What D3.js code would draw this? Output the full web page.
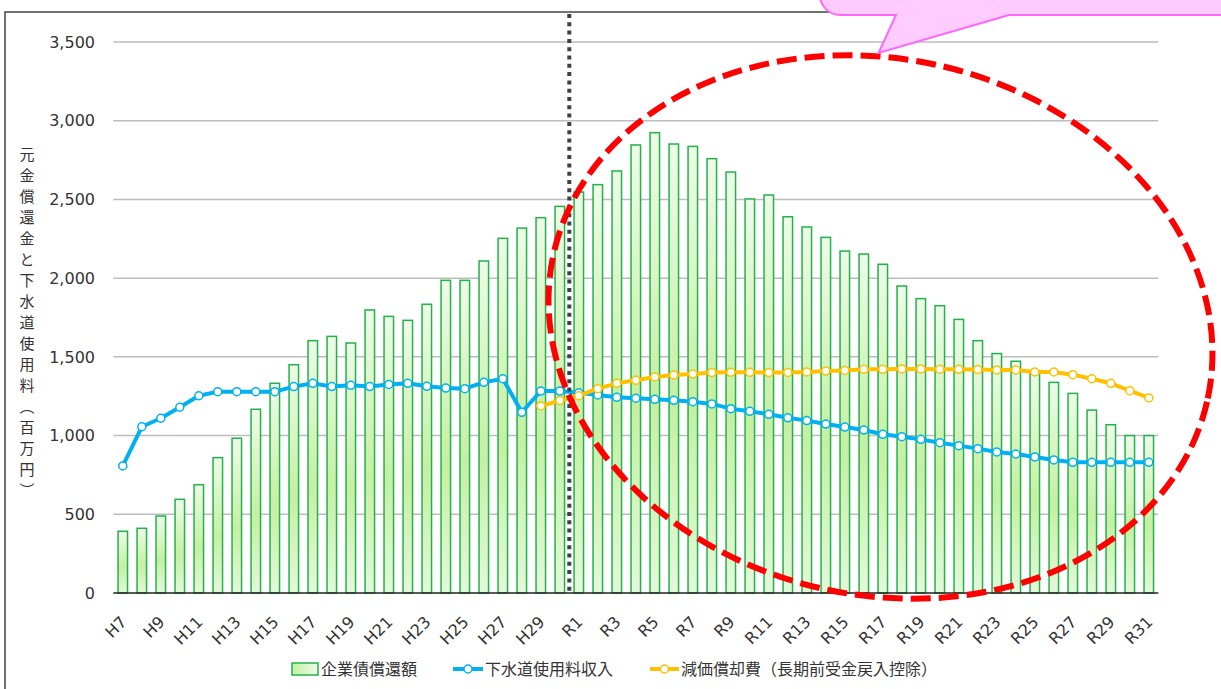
<!DOCTYPE html>
<html lang="ja">
<head>
<meta charset="utf-8">
<script src="https://cdn.jsdelivr.net/npm/d3@7"></script>
<style>
  html, body { margin: 0; padding: 0; background: #fff; overflow: hidden; }
  svg { display: block; }
</style>
</head>
<body>
<svg id="chart" width="1221" height="689"></svg>
<script>
// Fiscal years: Heisei 7–30, then Reiwa 1–31
const years = [
  "H7","H8","H9","H10","H11","H12","H13","H14","H15","H16","H17","H18","H19","H20",
  "H21","H22","H23","H24","H25","H26","H27","H28","H29","H30",
  "R1","R2","R3","R4","R5","R6","R7","R8","R9","R10","R11","R12","R13","R14","R15",
  "R16","R17","R18","R19","R20","R21","R22","R23","R24","R25","R26","R27","R28","R29","R30","R31"
];

// 企業債償還額 (百万円)
const bondRepayment = [
  392, 411, 489, 595, 688, 860, 983, 1167, 1332, 1450, 1603, 1630, 1588, 1798,
  1757, 1732, 1834, 1986, 1986, 2109, 2253, 2318, 2384, 2456,
  2547, 2594, 2681, 2846, 2924, 2852, 2837, 2759, 2674, 2503, 2528, 2390, 2325, 2259, 2172,
  2153, 2088, 1950, 1870, 1825, 1738, 1603, 1521, 1472, 1400, 1338, 1268, 1162, 1069, 1000, 1000
];

// 下水道使用料収入 (百万円)
const sewerRevenue = [
  807, 1056, 1110, 1180, 1253, 1279, 1279, 1279, 1279, 1311, 1332, 1311, 1319, 1311,
  1325, 1332, 1313, 1302, 1298, 1338, 1361, 1148, 1283, 1283,
  1272, 1258, 1243, 1237, 1230, 1224, 1215, 1201, 1171, 1154, 1135, 1113, 1095, 1073, 1054,
  1035, 1008, 993, 976, 955, 936, 917, 896, 883, 864, 845, 830, 830, 830, 830, 830
];

// 減価償却費（長期前受金戻入控除）, from H29 onward
const depreciationYears = [
  "H29","H30","R1","R2","R3","R4","R5","R6","R7","R8","R9","R10","R11","R12","R13","R14",
  "R15","R16","R17","R18","R19","R20","R21","R22","R23","R24","R25","R26","R27","R28","R29","R30","R31"
];
const depreciation = [
  1188, 1222, 1253, 1298, 1332, 1351, 1372, 1385, 1391, 1400, 1402, 1402, 1400, 1401, 1404, 1410,
  1414, 1421, 1421, 1423, 1423, 1421, 1421, 1419, 1417, 1417, 1404, 1404, 1387, 1361, 1332, 1285, 1239
];

const yTicks = [0, 500, 1000, 1500, 2000, 2500, 3000, 3500];
const xTickLabels = years.filter((d, i) => i % 2 === 0);
const dividerBetween = ["H30", "R1"];

const seriesNames = ["企業債償還額", "下水道使用料収入", "減価償却費（長期前受金戻入控除）"];
const yTitle = "元金償還金と下水道使用料（百万円）";

const BLUE = "#00b0f0", YELLOW = "#ffc000", BAR_STROKE = "#22b24c";
const NUM_FONT = "'DejaVu Sans', Verdana, sans-serif";
const JP_FONT = "'Noto Sans CJK JP', 'Noto Sans', sans-serif";

const svg = d3.select("#chart");
const plot = { left: 113.3, right: 1158.3, top: 42, bottom: 593 };

const x = d3.scaleBand().domain(years).range([plot.left, plot.right])
  .paddingInner(0.5).paddingOuter(0.25);
const cx = d => x(d) + x.bandwidth() / 2;
const y = d3.scaleLinear().domain([0, 3500]).range([plot.bottom, plot.top]);

// bar gradient
const defs = svg.append("defs");
const grad = defs.append("linearGradient").attr("id", "barFill")
  .attr("x1", 0).attr("y1", 0).attr("x2", 0).attr("y2", 1);
grad.append("stop").attr("offset", "0%").attr("stop-color", "#eefbe8");
grad.append("stop").attr("offset", "58%").attr("stop-color", "#c5efa3");
grad.append("stop").attr("offset", "100%").attr("stop-color", "#e4f8da");
const gradH = defs.append("linearGradient").attr("id", "swatchFill")
  .attr("x1", 0).attr("y1", 0).attr("x2", 1).attr("y2", 0);
gradH.append("stop").attr("offset", "0%").attr("stop-color", "#c5efa3");
gradH.append("stop").attr("offset", "100%").attr("stop-color", "#eefbe8");

// outer chart frame
svg.append("rect").attr("x", 5).attr("y", 12).attr("width", 1300).attr("height", 800)
  .attr("fill", "none").attr("stroke", "#444").attr("stroke-width", 1.5);

// horizontal gridlines
svg.append("g").selectAll("line").data(yTicks.filter(d => d > 0)).join("line")
  .attr("x1", plot.left).attr("x2", plot.right)
  .attr("y1", d => y(d)).attr("y2", d => y(d))
  .attr("stroke", "#bdbdbd").attr("stroke-width", 1.5);

// y tick labels
svg.append("g").selectAll("text").data(yTicks).join("text")
  .attr("x", 95).attr("y", d => y(d)).attr("dy", "0.36em")
  .attr("text-anchor", "end")
  .attr("font-family", NUM_FONT).attr("font-size", 16).attr("fill", "#333")
  .text(d3.format(","));

// y axis title (vertical)
svg.append("text")
  .attr("x", 27).attr("y", 325)
  .attr("text-anchor", "middle")
  .style("writing-mode", "vertical-rl")
  .attr("font-family", JP_FONT).attr("font-size", 15).attr("letter-spacing", 6)
  .attr("fill", "#333")
  .text(yTitle);

// bars
svg.append("g").selectAll("rect").data(years).join("rect")
  .attr("x", d => x(d)).attr("width", x.bandwidth())
  .attr("y", (d, i) => y(bondRepayment[i]))
  .attr("height", (d, i) => y(0) - y(bondRepayment[i]))
  .attr("fill", "url(#barFill)").attr("stroke", BAR_STROKE).attr("stroke-width", 1.5);

// baseline
svg.append("line").attr("x1", plot.left).attr("x2", plot.right)
  .attr("y1", y(0)).attr("y2", y(0)).attr("stroke", "#222").attr("stroke-width", 1.5);

// x tick labels
svg.append("g").selectAll("text").data(xTickLabels).join("text")
  .attr("transform", d => `translate(${cx(d) + 1},${plot.bottom + 26}) rotate(-45)`)
  .attr("dy", "0.35em").attr("text-anchor", "end")
  .attr("font-family", NUM_FONT).attr("font-size", 16).attr("fill", "#333")
  .text(d => d);

// lines with markers
function drawSeries(cats, vals, color) {
  const pts = cats.map((c, i) => [cx(c), y(vals[i])]);
  svg.append("path").datum(pts)
    .attr("d", d3.line())
    .attr("fill", "none").attr("stroke", color).attr("stroke-width", 4)
    .attr("stroke-linejoin", "round");
  svg.append("g").selectAll("circle").data(pts).join("circle")
    .attr("cx", d => d[0]).attr("cy", d => d[1]).attr("r", 4)
    .attr("fill", "#fff").attr("stroke", color).attr("stroke-width", 1.5);
}
drawSeries(years, sewerRevenue, BLUE);
drawSeries(depreciationYears, depreciation, YELLOW);

// era divider (dotted)
const divX = (cx(dividerBetween[0]) + cx(dividerBetween[1])) / 2;
svg.append("line").attr("x1", divX).attr("x2", divX).attr("y1", 14).attr("y2", plot.bottom)
  .attr("stroke", "#404040").attr("stroke-width", 4).attr("stroke-dasharray", "4 4.3");

// highlight ellipse
svg.append("ellipse")
  .attr("transform", "translate(880.5,327) rotate(12.9)")
  .attr("rx", 335).attr("ry", 268)
  .attr("fill", "none").attr("stroke", "#ff0000").attr("stroke-width", 6)
  .attr("stroke-dasharray", "20 8");

// callout balloon
svg.append("path")
  .attr("d", "M820,-40 V-5 A20,20 0 0 0 840,15 H896 L878.5,53 L1009,15 H1260 V-40 Z")
  .attr("fill", "#ffccff").attr("stroke", "#ff66ff").attr("stroke-width", 2)
  .attr("stroke-linejoin", "miter");

// legend
const lg = svg.append("g").attr("font-family", JP_FONT).attr("font-size", 16).attr("fill", "#333");
const ly = 669;
lg.append("rect").attr("x", 292).attr("y", ly - 6).attr("width", 26).attr("height", 12)
  .attr("fill", "url(#swatchFill)").attr("stroke", BAR_STROKE).attr("stroke-width", 1.5);
lg.append("text").attr("x", 321).attr("y", ly).attr("dy", "0.36em").text(seriesNames[0]);
[[453, 483, BLUE, 485, seriesNames[1]], [650, 679, YELLOW, 681, seriesNames[2]]]
  .forEach(([x1, x2, c, tx, label]) => {
    lg.append("line").attr("x1", x1).attr("x2", x2).attr("y1", ly).attr("y2", ly)
      .attr("stroke", c).attr("stroke-width", 4);
    lg.append("circle").attr("cx", (x1 + x2) / 2).attr("cy", ly).attr("r", 4)
      .attr("fill", "#fff").attr("stroke", c).attr("stroke-width", 1.5);
    lg.append("text").attr("x", tx).attr("y", ly).attr("dy", "0.36em").text(label);
  });
</script>
</body>
</html>
